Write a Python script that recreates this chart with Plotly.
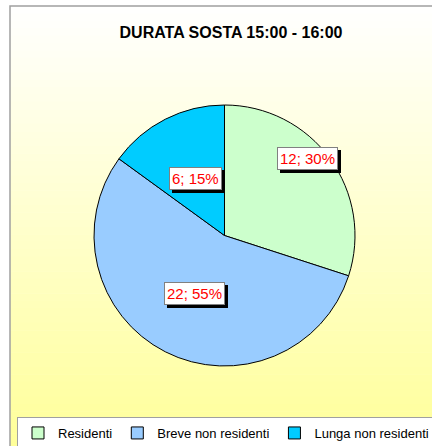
import math
import plotly.graph_objects as go

# data
labels = ['Residenti', 'Breve non residenti', 'Lunga non residenti']
values = [12, 22, 6]
colors = ['#CCFFCC', '#99CCFF', '#00CCFF']
title = 'DURATA SOSTA 15:00 - 16:00'

W, H = 432, 446
# plot area: wide, so the legend may use the full width; pie sits in its own domain
L, T, GH = 20, 105, 261
GW = W - L
PIE_L, PIE_R = 94, 355


def px_x(x):
    return (x - L) / GW


def px_y(y):
    return (T + GH - y) / GH


FONT = 'Liberation Sans, Arial, sans-serif'

fig = go.Figure(go.Pie(
    labels=labels,
    values=values,
    marker=dict(colors=colors, line=dict(color='black', width=1)),
    sort=False,
    direction='clockwise',
    rotation=0,
    textinfo='none',
    hoverinfo='label+value+percent',
    domain=dict(x=[px_x(PIE_L), px_x(PIE_R)], y=[0, 1]),
))

# background gradient (white -> light yellow) inside the chart border
shapes = []
n_bands = 60
y0, y1 = 6, H + 2
for i in range(n_bands):
    t = (i + 0.5) / n_bands
    b = int(round(255 - (255 - 153) * t))
    ya = y0 + (y1 - y0) * i / n_bands
    yb = y0 + (y1 - y0) * (i + 1) / n_bands + 0.5
    shapes.append(dict(type='rect', xref='paper', yref='paper', layer='below',
                       x0=px_x(10), x1=px_x(W + 5), y0=px_y(ya), y1=px_y(yb),
                       fillcolor=f'rgb(255,255,{b})', line=dict(width=0)))
shapes.append(dict(type='rect', xref='paper', yref='paper', layer='below',
                   x0=px_x(10), x1=px_x(W + 5), y0=px_y(6), y1=px_y(H + 5),
                   fillcolor='rgba(0,0,0,0)', line=dict(color='#A0A0A0', width=1.5)))

# data labels "value; percent" in white boxes with a black shadow
total = sum(values)
cx, cy, rad = (PIE_L + PIE_R) / 2, T + GH / 2, (PIE_R - PIE_L) / 2
label_r = [0.87, 0.5, 0.49]       # radial position (fraction of radius)
label_dang = [-7, 0, 0]           # angular nudge, degrees
annotations = []
start = 0
for v, f, da in zip(values, label_r, label_dang):
    mid = (start + v / 2) / total * 2 * math.pi + math.radians(da)
    start += v
    lx = px_x(cx + f * rad * math.sin(mid))
    ly = px_y(cy - f * rad * math.cos(mid))
    txt = f'{v}; {round(v / total * 100)}%'
    for shadow in (True, False):
        annotations.append(dict(
            x=lx, y=ly, xref='paper', yref='paper', text=txt, showarrow=False,
            xanchor='center', yanchor='middle',
            font=dict(family=FONT, size=15, color='black' if shadow else '#FF0000'),
            bgcolor='black' if shadow else 'white',
            bordercolor='black' if shadow else '#808080',
            borderwidth=1, borderpad=2,
            xshift=3 if shadow else 0, yshift=-3 if shadow else 0,
        ))

fig.update_layout(
    width=W, height=H,
    margin=dict(l=L, r=0, t=T, b=H - T - GH, pad=0, autoexpand=False),
    paper_bgcolor='white',
    plot_bgcolor='rgba(0,0,0,0)',
    font=dict(family=FONT, color='black'),
    title=dict(text=f'<b>{title}</b>', xref='container', yref='container',
               x=231 / W, y=1 - 32 / H, xanchor='center', yanchor='middle',
               font=dict(size=16, family=FONT, color='black')),
    shapes=shapes,
    annotations=annotations,
    showlegend=True,
    legend=dict(orientation='h', xref='paper', yref='paper',
                x=px_x(17), y=px_y(417), xanchor='left', yanchor='top',
                bgcolor='white', bordercolor='#A0A0A0', borderwidth=1,
                font=dict(size=13, family=FONT, color='black'),
                itemclick=False, itemdoubleclick=False),
)

fig.write_html('out.html', config={'displayModeBar': False},
               post_script="document.body.style.margin='0';")
